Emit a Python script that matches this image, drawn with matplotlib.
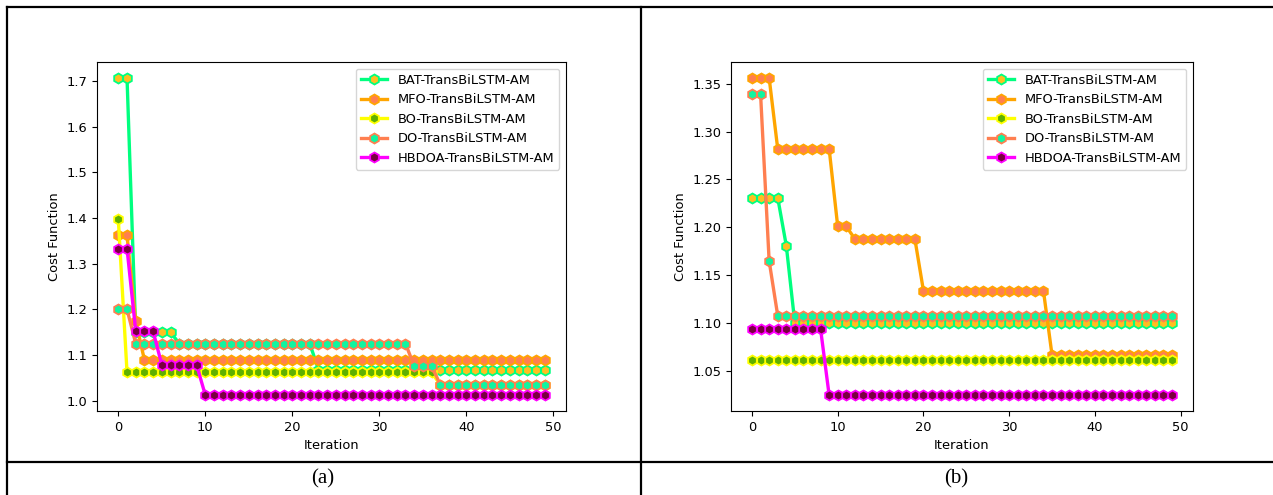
import numpy as np
import matplotlib.pyplot as plt
from matplotlib.lines import Line2D

plt.rcParams['font.size'] = 9.4

iterations = np.arange(50)
names = ["BAT-TransBiLSTM-AM", "MFO-TransBiLSTM-AM", "BO-TransBiLSTM-AM",
         "DO-TransBiLSTM-AM", "HBDOA-TransBiLSTM-AM"]

# panel (a) convergence curves
bat_a = [1.707] * 2 + [1.150] * 5 + [1.125] * 16 + [1.068] * 27
mfo_a = [1.362] * 2 + [1.174] + [1.089] * 47
bo_a = [1.397] + [1.062] * 36 + [1.035] * 13
do_a = [1.200] * 2 + [1.125] * 32 + [1.076] * 3 + [1.035] * 13
hbdoa_a = [1.333] * 2 + [1.152] * 3 + [1.078] * 5 + [1.012] * 40

# panel (b) convergence curves
bat_b = [1.231] * 4 + [1.181] + [1.100] * 45
mfo_b = [1.356] * 3 + [1.282] * 7 + [1.201] * 2 + [1.188] * 8 + [1.134] * 15 + [1.067] * 15
bo_b = [1.062] * 50
do_b = [1.339] * 2 + [1.165] + [1.108] * 47
hbdoa_b = [1.094] * 9 + [1.025] * 41

line_colors = ["#00FF7F", "#FFA500", "#FFFF00", "#FF7F50", "#FF00FF"]
face_colors = ["#FFBF20", "#FF7F50", "#5FB000", "#10F5A0", "#7A0040"]

fig = plt.figure(figsize=(12.73, 4.95), dpi=100)
ax_a = fig.add_axes([97 / 1273, 1 - 411 / 495, 469 / 1273, 349 / 495])
ax_b = fig.add_axes([731 / 1273, 1 - 411 / 495, 462 / 1273, 349 / 495])

for ax, series in [(ax_a, [bat_a, mfo_a, bo_a, do_a, hbdoa_a]),
                   (ax_b, [bat_b, mfo_b, bo_b, do_b, hbdoa_b])]:
    for vals, name, lc, fc in zip(series, names, line_colors, face_colors):
        ax.plot(iterations, vals, color=lc, lw=2.4, marker="h", markersize=7.2,
                markerfacecolor=fc, markeredgecolor=lc, markeredgewidth=1.3,
                label=name)
    ax.set_xlabel("Iteration")
    ax.set_ylabel("Cost Function")
    ax.set_xticks([0, 10, 20, 30, 40, 50])
    ax.legend(loc="upper right")
    for s in ax.spines.values():
        s.set_linewidth(0.8)

ax_a.set_yticks([1.0, 1.1, 1.2, 1.3, 1.4, 1.5, 1.6, 1.7])
ax_b.set_yticks([1.05, 1.10, 1.15, 1.20, 1.25, 1.30, 1.35])

# table rules around the two panels
W, H = 1273, 495
rules = [((7, W), (7, 7)), ((7, W), (462, 462)),
         ((7, 7), (7, H)), ((640.5, 640.5), (7, H))]
for xs, ys in rules:
    fig.add_artist(Line2D([x / W for x in xs], [1 - y / H for y in ys],
                          color="black", lw=1.6, transform=fig.transFigure))

fig.text(323 / W, 1 - 479 / H, "(a)", ha="center", va="center",
         fontsize=15, family="Liberation Serif")
fig.text(956 / W, 1 - 479 / H, "(b)", ha="center", va="center",
         fontsize=15, family="Liberation Serif")

fig.savefig("out.png", dpi=100)
